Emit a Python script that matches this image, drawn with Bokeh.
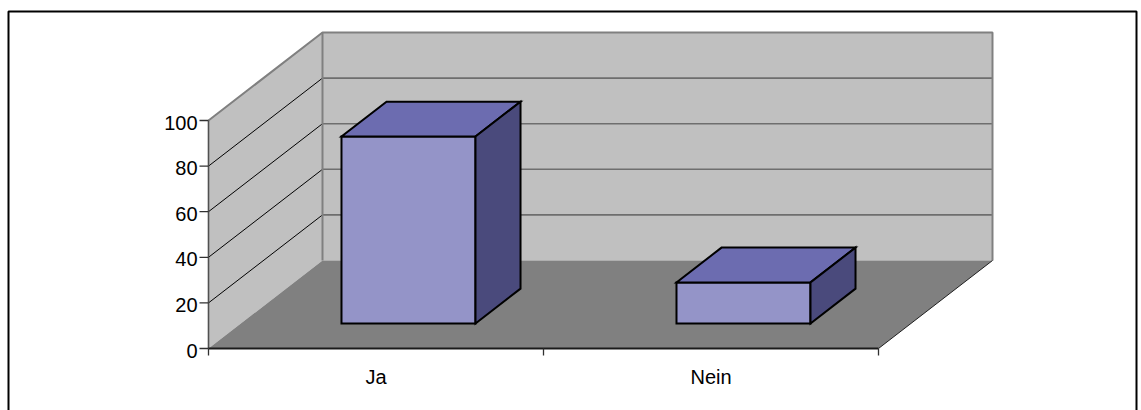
from bokeh.plotting import figure
from bokeh.models import Range1d
from bokeh.core.properties import value
from bokeh.embed import file_html
from bokeh.resources import INLINE

# ---- data ----
categories = ["Ja", "Nein"]
counts = [82, 18]
y_ticks = [0, 20, 40, 60, 80, 100]
y_max = 100

# ---- layout of the 3-D box (screen pixels) ----
W, H = 1141, 410
ORIGIN_PX_X = 208      # front-left corner of the floor
ORIGIN_PX_Y = 348      # (measured from the top of the canvas)
PX_PER_CAT = 335       # width of one category slot
PX_PER_UNIT = 2.28     # pixels per value unit
DEPTH_PX_X = 114       # oblique depth offset of the back wall
DEPTH_PX_Y = 88

DX = DEPTH_PX_X / PX_PER_CAT
DY = DEPTH_PX_Y / PX_PER_UNIT
BAR_W = 0.40           # bar width in category units
Z0, Z1 = 0.285, 0.68   # bar depth span (0 = front, 1 = back wall)
N = len(categories)

FONT = "Liberation Sans"


def proj(x, y, z):
    """Oblique projection of a point of the 3-D box into plot coordinates."""
    return x + z * DX, y + z * DY


def px_x(px):
    return (px - ORIGIN_PX_X) / PX_PER_CAT


def px_y(py):
    return (ORIGIN_PX_Y - py) / PX_PER_UNIT


def poly(points):
    xs, ys = zip(*[proj(*pt) for pt in points])
    return list(xs), list(ys)


p = figure(
    width=W, height=H,
    x_range=Range1d(px_x(0), px_x(W)),
    y_range=Range1d(px_y(H), px_y(0)),
    x_axis_type=None, y_axis_type=None,
    toolbar_location=None, output_backend="svg",
    min_border=0, min_border_left=0, min_border_right=0,
    min_border_top=0, min_border_bottom=0,
)
p.outline_line_color = None
p.grid.visible = False
p.background_fill_color = "white"
p.border_fill_color = "white"

# ---- walls and floor ----
back_x, back_y = poly([(0, 0, 1), (N, 0, 1), (N, y_max, 1), (0, y_max, 1)])
side_x, side_y = poly([(0, 0, 0), (0, 0, 1), (0, y_max, 1), (0, y_max, 0)])
floor_x, floor_y = poly([(0, 0, 0), (N, 0, 0), (N, 0, 1), (0, 0, 1)])

p.patch(back_x, back_y, fill_color="#C0C0C0", line_color=None)
p.patch(side_x, side_y, fill_color="#C0C0C0", line_color=None)

# gridlines on the back wall and the side wall
for t in y_ticks[1:-1]:
    gx, gy = poly([(0, t, 1), (N, t, 1)])
    p.line(gx, gy, line_color="#6E6E6E", line_width=1.6)
    sx, sy = poly([(0, t, 0), (0, t, 1)])
    p.line(sx, sy, line_color="#000000", line_width=1)

# wall edges
ex, ey = poly([(0, y_max, 0), (0, y_max, 1), (N, y_max, 1), (N, 0, 1)])
p.line(ex, ey, line_color="#808080", line_width=2)
cx, cy = poly([(0, 0, 1), (0, y_max, 1)])
p.line(cx, cy, line_color="#808080", line_width=2)

p.patch(floor_x, floor_y, fill_color="#808080", line_color=None)
fx, fy = poly([(N, 0, 0), (N, 0, 1)])
p.line(fx, fy, line_color="#202020", line_width=1)

# ---- bars ----
face_xs, face_ys, face_colors = [], [], []
for i, v in enumerate(counts):
    c = i + 0.5
    x0, x1 = c - BAR_W / 2, c + BAR_W / 2
    faces = [
        ([(x0, 0, Z0), (x1, 0, Z0), (x1, v, Z0), (x0, v, Z0)], "#9494C8"),
        ([(x0, v, Z0), (x1, v, Z0), (x1, v, Z1), (x0, v, Z1)], "#6C6CB0"),
        ([(x1, 0, Z0), (x1, 0, Z1), (x1, v, Z1), (x1, v, Z0)], "#4A4A7C"),
    ]
    for pts, col in faces:
        fxs, fys = poly(pts)
        face_xs.append(fxs)
        face_ys.append(fys)
        face_colors.append(col)

p.patches(face_xs, face_ys, fill_color=face_colors, line_color="black",
          line_width=2, line_join="miter")

# ---- axes ----
ax, ay = poly([(0, 0, 0), (0, y_max, 0)])
p.line(ax, ay, line_color="#505050", line_width=1.6)
bx, by = poly([(0, 0, 0), (N, 0, 0)])
p.line(bx, by, line_color="#1A1A1A", line_width=2)

tick_len_y = 9 / PX_PER_CAT
p.segment(x0=[-tick_len_y] * len(y_ticks), y0=y_ticks,
          x1=[0] * len(y_ticks), y1=y_ticks,
          line_color="#303030", line_width=1.3)
cat_bounds = list(range(N + 1))
tick_len_x = 7 / PX_PER_UNIT
p.segment(x0=cat_bounds, y0=[0] * len(cat_bounds),
          x1=cat_bounds, y1=[-tick_len_x] * len(cat_bounds),
          line_color="#303030", line_width=1.3)

p.text(x=[0] * len(y_ticks), y=y_ticks, text=[str(t) for t in y_ticks],
       x_offset=-11, y_offset=2, text_align="right",
       text_baseline="alphabetic", text_font=value(FONT),
       text_font_size="20px", text_color="black")
p.text(x=[i + 0.5 for i in range(N)], y=[0] * N, text=categories,
       y_offset=28, text_align="center", text_baseline="alphabetic",
       text_font=value(FONT), text_font_size="20px", text_color="black")

# ---- chart border (open at the bottom edge) ----
p.line([px_x(8), px_x(8), px_x(1136), px_x(1136)],
       [px_y(H + 10), px_y(11), px_y(11), px_y(H + 10)],
       line_color="black", line_width=2)

open("out.html", "w").write(file_html(p, INLINE))
